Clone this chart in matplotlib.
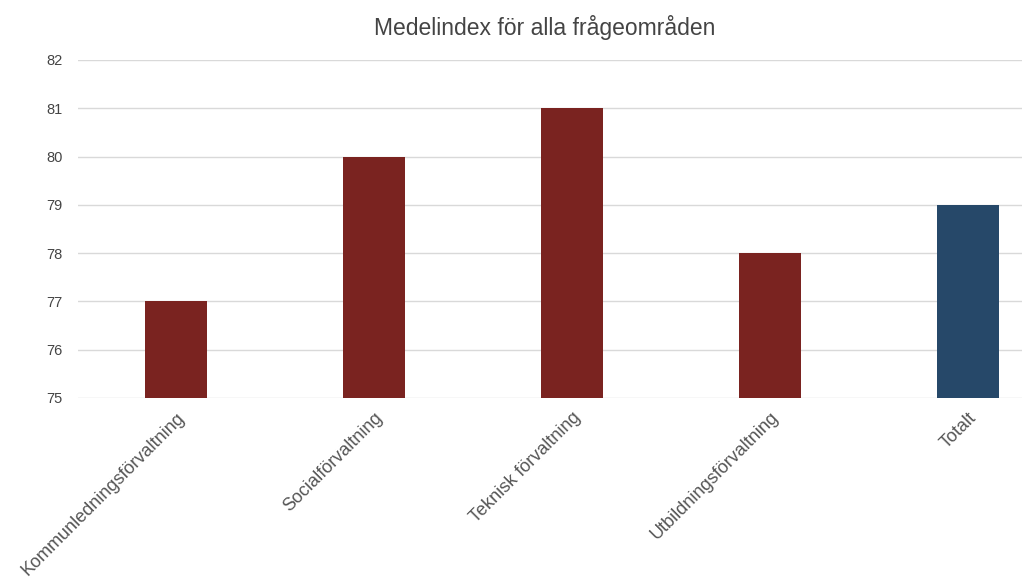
import matplotlib
matplotlib.use("Agg")
import matplotlib.pyplot as plt

categories = ["Kommunledningsförvaltning", "Socialförvaltning", "Teknisk förvaltning",
              "Utbildningsförvaltning", "Totalt"]
values = [77, 80, 81, 78, 79]
bar_colors = ["#7A2320", "#7A2320", "#7A2320", "#7A2320", "#264869"]
yticks = [75, 76, 77, 78, 79, 80, 81, 82]

plt.rcParams['font.family'] = ['Liberation Sans', 'DejaVu Sans']

fig = plt.figure(figsize=(10.22, 5.78), dpi=100)
W, H = 1022, 578
ax = fig.add_axes([78 / W, 1 - 398 / H, (1022 - 78) / W, (398 - 60) / H])

x = list(range(len(categories)))
ax.bar(x, [v - 75 for v in values], bottom=75, width=0.312, color=bar_colors, zorder=3)

ax.set_ylim(75, 82)
ax.set_xlim(-0.495, -0.495 + 944 / 198)
ax.set_yticks(yticks)
ax.set_yticklabels([str(t) for t in yticks], fontsize=10.5, color="#444444")
ax.set_xticks(x)
ax.set_xticklabels(categories, rotation=45, ha="right", rotation_mode="anchor",
                   fontsize=13, color="#555555")
ax.tick_params(axis="both", length=0)
ax.tick_params(axis="y", pad=11)
ax.tick_params(axis="x", pad=8)
ax.grid(axis="y", color="#d9d9d9", linewidth=1, zorder=0)
for s in ax.spines.values():
    s.set_visible(False)

fig.text(545 / W, 1 - 28 / H, "Medelindex för alla frågeområden", ha="center", va="center",
         fontsize=16.5, color="#444444")

fig.savefig("out.png", dpi=100)
